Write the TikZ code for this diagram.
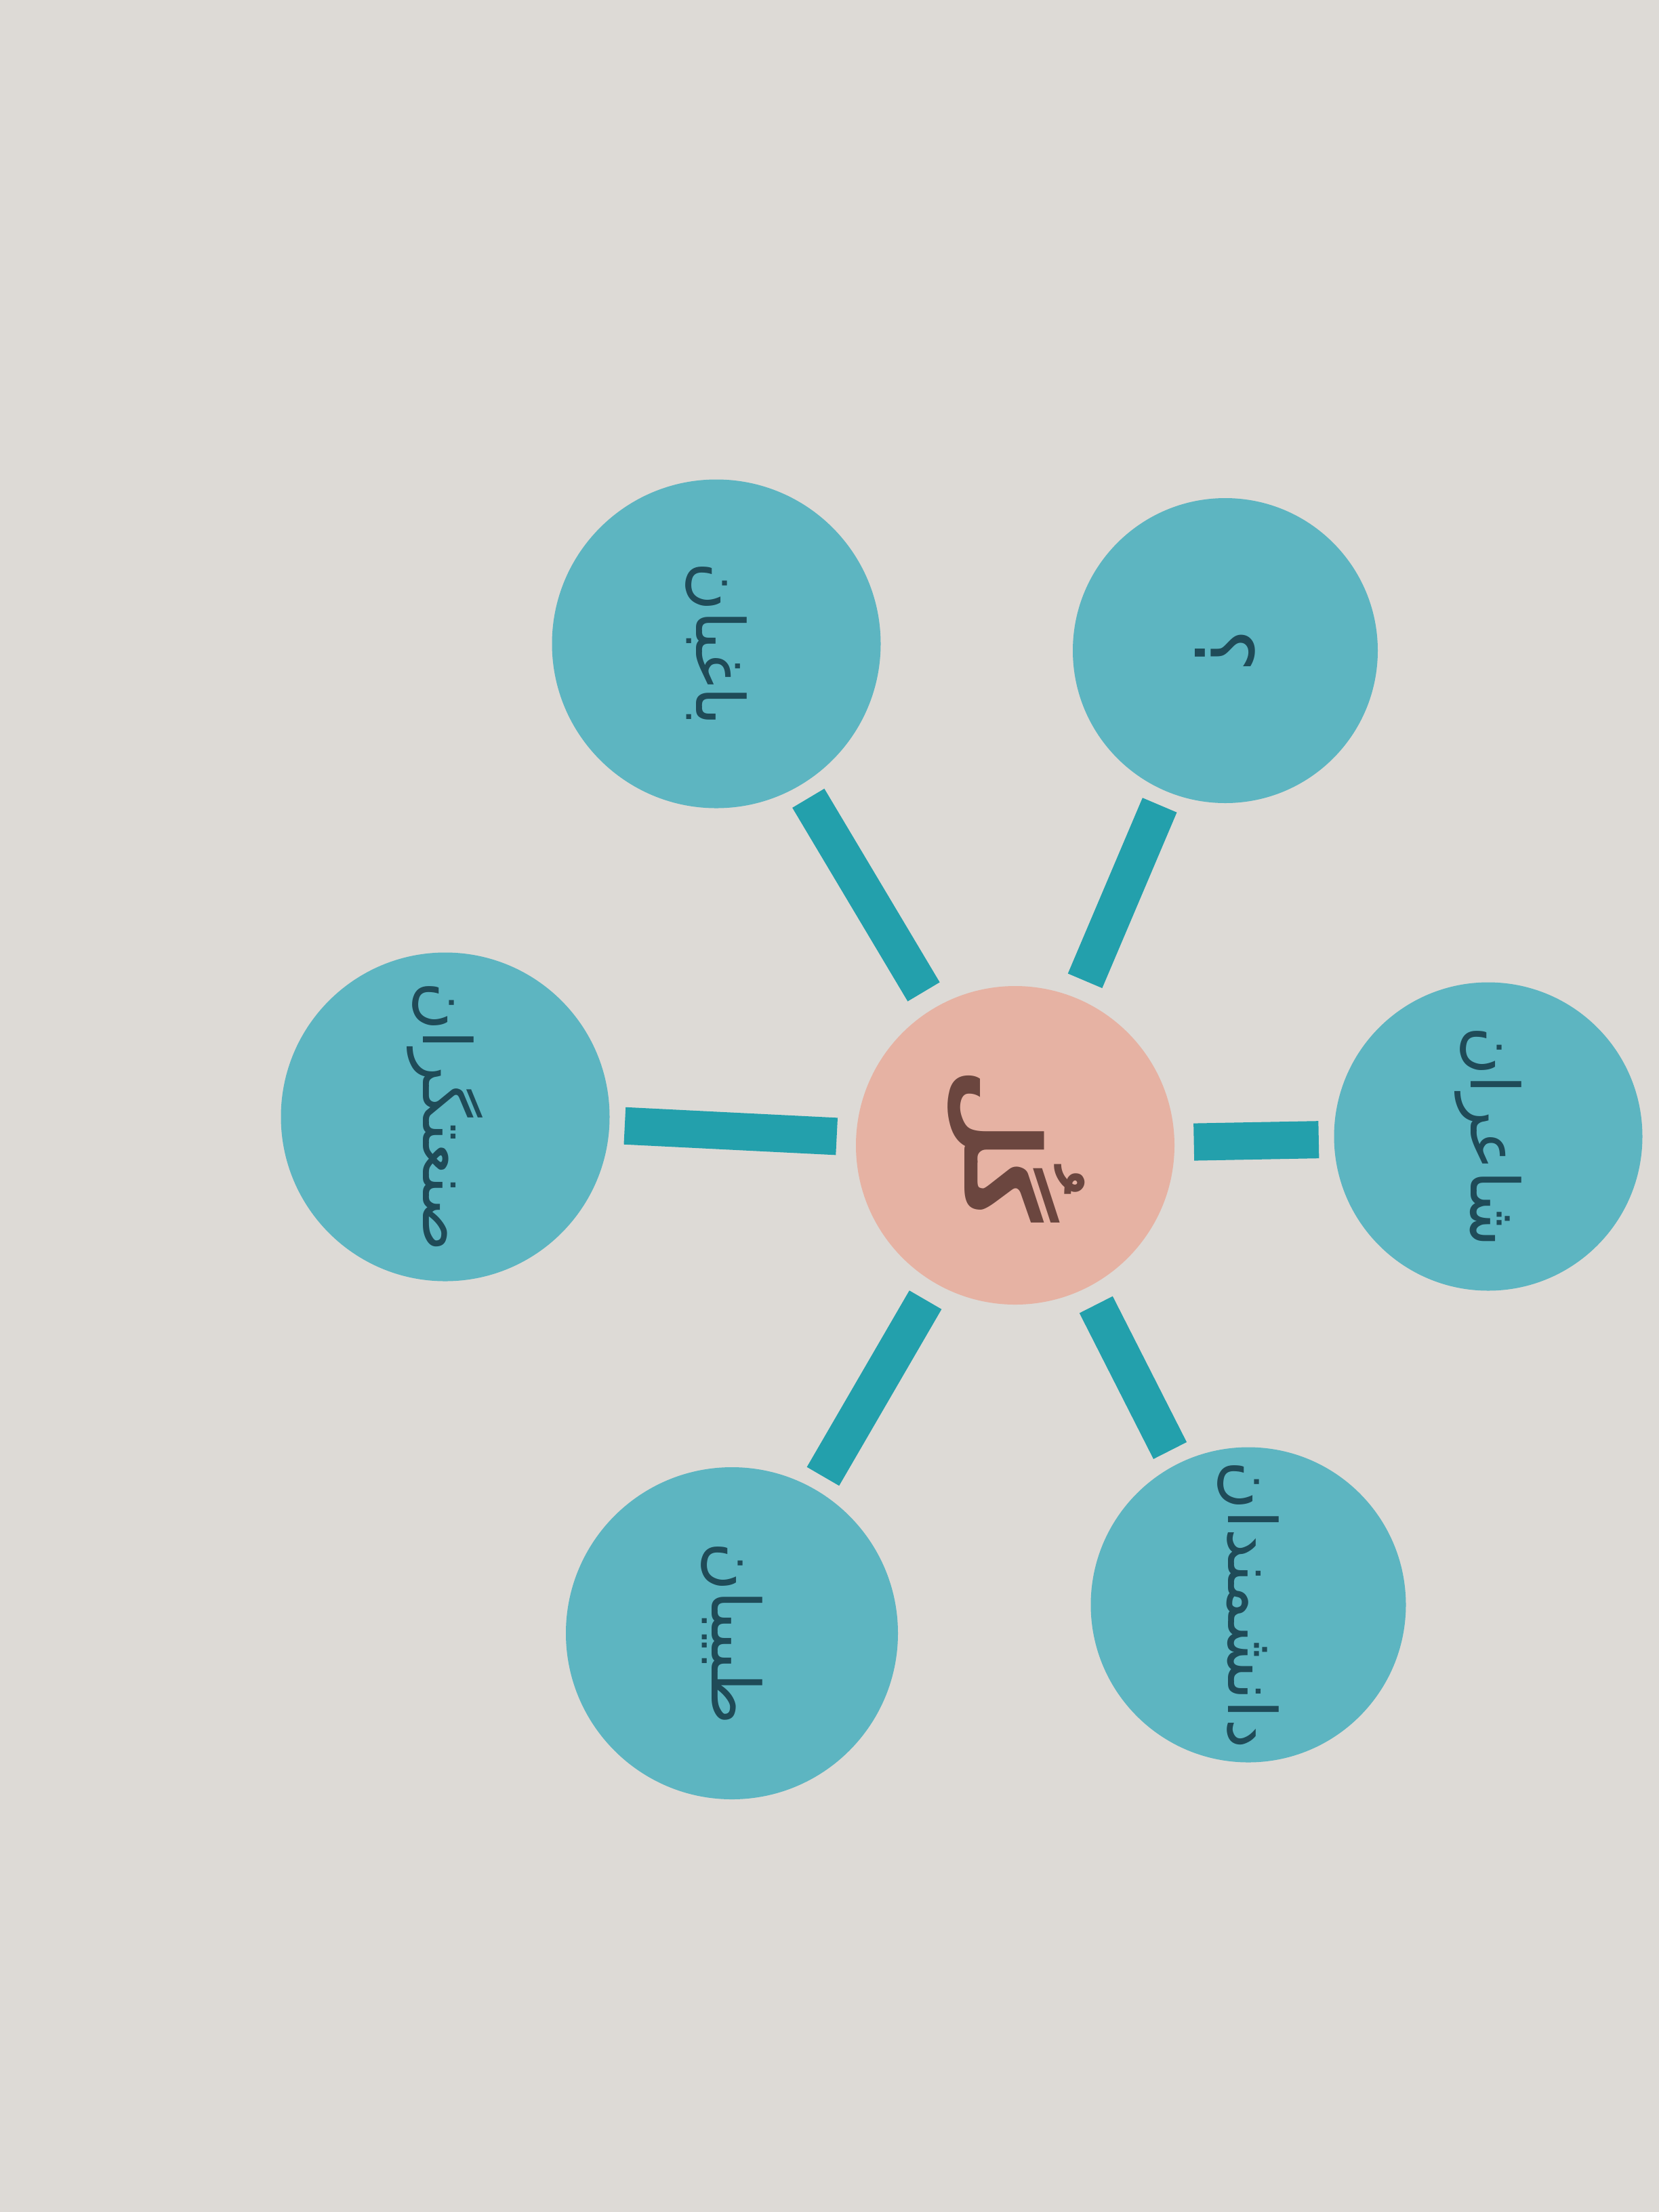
\documentclass[tikz,border=0pt]{standalone}
\usepackage{fontspec}
\usepackage{xcolor}
\newfontfamily\arabicfont[Script=Arabic]{DejaVu Sans}
\TeXXeTstate=1
\definecolor{paper}{HTML}{DDDAD6}
\definecolor{tealfill}{HTML}{5DB5C1}
\definecolor{barteal}{HTML}{23A0AC}
\definecolor{pinkfill}{HTML}{E6B2A3}
\definecolor{inkblue}{HTML}{1F4B58}
\definecolor{inkbrown}{HTML}{6B463F}

\begin{document}
\begin{tikzpicture}[
    word/.style={circle, fill=tealfill, inner sep=0pt, minimum size=4.75cm,
      text=inkblue, rotate=-90, font=\arabicfont\fontsize{28}{30}\selectfont},
    hub/.style={circle, fill=pinkfill, inner sep=0pt, minimum size=4.7cm,
      text=inkbrown, rotate=-90, font=\arabicfont\bfseries\fontsize{44}{48}\selectfont},
    bar/.style={draw=barteal, line width=0.55cm, shorten >=0.22cm, shorten <=0.28cm}]
            \fill[paper] (0,0) rectangle (24.48,-32.64);
            % the flower of words
            \node[hub] (gol) at (14.98,-16.90) {\beginR گُل\endR};
            \node[word, minimum size=4.85cm] (baghban) at (10.57,-9.50) {\beginR باغبان\endR};
            \node[word, minimum size=4.5cm, font=\arabicfont\fontsize{34}{36}\selectfont] (question) at (18.08,-9.60) {\beginR ؟\endR};
            \node[word, minimum size=4.55cm] (shaeran) at (21.96,-16.77) {\beginR شاعران\endR};
            \node[word, minimum size=4.65cm] (daneshmand) at (18.42,-23.68) {\beginR دانشمندان\endR};
            \node[word, minimum size=4.9cm] (tabiban) at (10.80,-24.10) {\beginR طبیبان\endR};
            \node[word, minimum size=4.85cm] (sanatgar) at (6.57,-16.48) {\beginR صنعتگران\endR};
            % connectors
            \draw[bar] (gol) -- (baghban);
            \draw[bar] (gol) -- (question);
            \draw[bar] (gol) -- (shaeran);
            \draw[bar] (gol) -- (daneshmand);
            \draw[bar] (gol) -- (tabiban);
            \draw[bar] (gol) -- (sanatgar);
        \end{tikzpicture}
\end{document}
